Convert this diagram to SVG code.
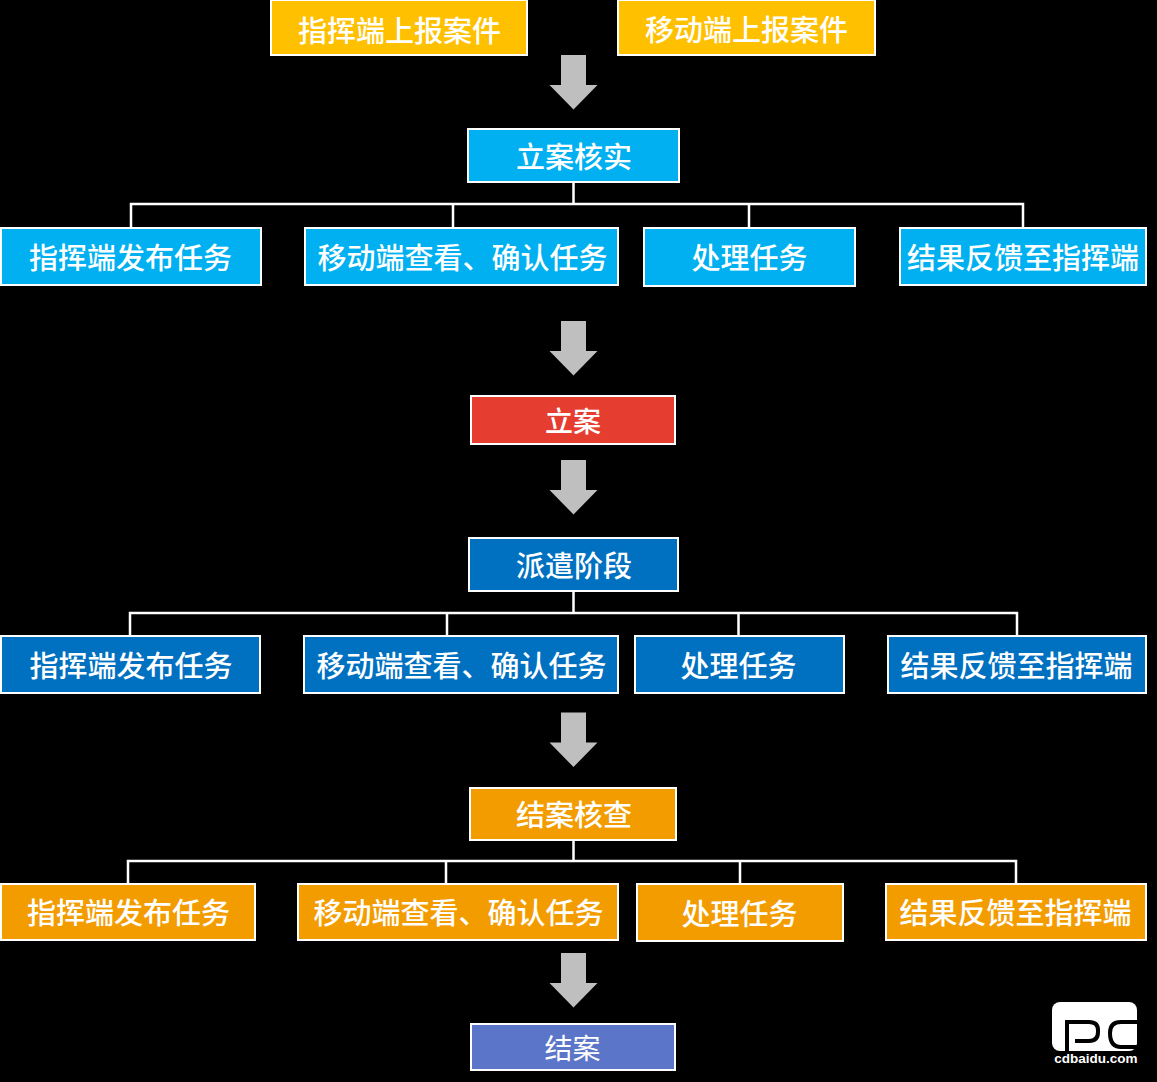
<svg xmlns="http://www.w3.org/2000/svg" width="1157" height="1082" viewBox="0 0 1157 1082">
<style>
.n{stroke:#fff;stroke-width:2}
.t{fill:#fff;font-family:"Noto Sans CJK SC","Noto Sans CJK JP",sans-serif;font-size:29px;font-weight:500;text-anchor:middle;dominant-baseline:central}
.y{fill:#ffc000}.b{fill:#00b0f0}.r{fill:#e53e30}.d{fill:#0070c0}.o{fill:#f39c00}.p{fill:#5b75c8}
.c{fill:none;stroke:#fff;stroke-width:2.500}
.a{fill:#bfbfbf}
</style>
<defs><path id="arrow" d="M-12.500 0H12.500V30H24L0 54.500L-24 30H-12.500Z"/></defs>
<rect width="1157" height="1082" fill="#000"/>
<g id="connectors">
<path class="c" d="M573.500 183V204M131 227V204H1023V227M453 204V227M749 204V227"/>
<path class="c" d="M573.500 592V613M130 635V613H1017V635M447 613V635M738.500 613V635"/>
<path class="c" d="M573.500 841V861M128 883V861H1016V883M446 861V883M740 861V883"/>
<use href="#arrow" class="a" x="573.500" y="55"/>
<use href="#arrow" class="a" x="573.500" y="321"/>
<use href="#arrow" class="a" x="573.500" y="460"/>
<use href="#arrow" class="a" x="573.500" y="712.500"/>
<use href="#arrow" class="a" x="573.500" y="953"/>
</g>
<g id="n1"><rect class="n y" x="271" y="0" width="256" height="55"/><text class="t" x="399.500" y="29">指挥端上报案件</text></g>
<g id="n2"><rect class="n y" x="618" y="0" width="257" height="55"/><text class="t" x="746.500" y="28">移动端上报案件</text></g>
<g id="n3"><rect class="n b" x="468" y="129" width="211" height="53"/><text class="t" x="574" y="155">立案核实</text></g>
<g id="n4"><rect class="n b" x="1" y="228" width="260" height="57"/><text class="t" x="130.500" y="256">指挥端发布任务</text></g>
<g id="n5"><rect class="n b" x="305" y="228" width="313" height="57"/><text class="t" x="462.500" y="256">移动端查看、确认任务</text></g>
<g id="n6"><rect class="n b" x="644" y="228" width="211" height="58"/><text class="t" x="749.500" y="256">处理任务</text></g>
<g id="n7"><rect class="n b" x="900" y="228" width="246" height="57"/><text class="t" x="1023" y="256">结果反馈至指挥端</text></g>
<g id="n8"><rect class="n r" x="471" y="396" width="204" height="48"/><text class="t" x="573" y="420" style="font-size:28px">立案</text></g>
<g id="n9"><rect class="n d" x="469" y="538" width="209" height="53"/><text class="t" x="574" y="564">派遣阶段</text></g>
<g id="n10"><rect class="n d" x="1" y="636" width="259" height="57"/><text class="t" x="131" y="664">指挥端发布任务</text></g>
<g id="n11"><rect class="n d" x="304" y="636" width="314" height="57"/><text class="t" x="461.500" y="664">移动端查看、确认任务</text></g>
<g id="n12"><rect class="n d" x="635" y="636" width="209" height="57"/><text class="t" x="738.500" y="664">处理任务</text></g>
<g id="n13"><rect class="n d" x="888" y="636" width="258" height="57"/><text class="t" x="1016.500" y="664">结果反馈至指挥端</text></g>
<g id="n14"><rect class="n o" x="470" y="788" width="206" height="52"/><text class="t" x="574" y="813">结案核查</text></g>
<g id="n15"><rect class="n o" x="1" y="884" width="254" height="56"/><text class="t" x="128.500" y="911">指挥端发布任务</text></g>
<g id="n16"><rect class="n o" x="298" y="884" width="320" height="56"/><text class="t" x="458.500" y="911">移动端查看、确认任务</text></g>
<g id="n17"><rect class="n o" x="637" y="884" width="206" height="57"/><text class="t" x="739.500" y="912">处理任务</text></g>
<g id="n18"><rect class="n o" x="886" y="884" width="260" height="56"/><text class="t" x="1015.500" y="911">结果反馈至指挥端</text></g>
<g id="n19"><rect class="n p" x="471" y="1024" width="204" height="46"/><text class="t" x="572.500" y="1047" style="font-size:28px;font-weight:400">结案</text></g>
<g id="logo">
<rect x="1052" y="1002" width="85" height="49" rx="8" fill="#fff"/>
<path d="M1067 1051V1022H1089Q1098 1022 1098 1030V1032Q1098 1041 1089 1041H1075" fill="none" stroke="#000" stroke-width="4"/>
<path d="M1137 1022H1121Q1110 1022 1110 1033Q1110 1047 1121 1047H1137" fill="none" stroke="#000" stroke-width="4"/>
<text x="1096" y="1063" text-anchor="middle" font-family="'Liberation Sans',sans-serif" font-size="13.500" font-weight="700" fill="#fff">cdbaidu.com</text>
</g>
</svg>
